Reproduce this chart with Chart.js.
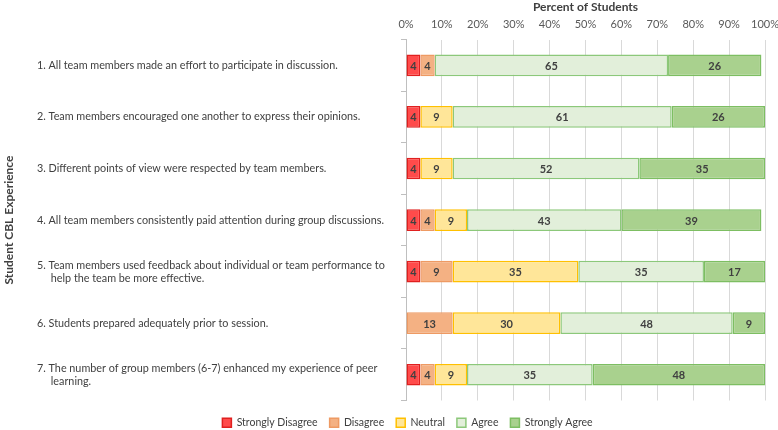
<!DOCTYPE html>
<html>
<head>
<meta charset="utf-8">
<script src="https://cdn.jsdelivr.net/npm/chart.js@4/dist/chart.umd.min.js"></script>
<style>
  body { margin: 0; background: #fff; }
</style>
</head>
<body>
<canvas id="myChart" width="778" height="430"></canvas>
<script>
// survey statements (multi-line ones are arrays)
const statements = [
    '1. All team members made an effort to participate in discussion.',
    '2. Team members encouraged one another to express their opinions.',
    '3. Different points of view were respected by team members.',
    '4. All team members consistently paid attention during group discussions.',
    ['5. Team members used feedback about individual or team performance to', '     help the team be more effective.'],
    '6. Students prepared adequately prior to session.',
    ['7. The number of group members (6-7) enhanced my experience of peer', '     learning.']
];

// percent of students per answer
const stronglyDisagree = [4, 4, 4, 4, 4, 0, 4];
const disagree         = [4, 0, 0, 4, 9, 13, 4];
const neutral          = [0, 9, 9, 9, 35, 30, 9];
const agree            = [65, 61, 52, 43, 35, 48, 35];
const stronglyAgree    = [26, 26, 35, 39, 17, 9, 48];

const percentTicks = [0, 10, 20, 30, 40, 50, 60, 70, 80, 90, 100];

const FONT = 'Lato';

// zero answers are not drawn
function noZero(arr) {
    return arr.map(v => v === 0 ? null : v);
}

// numbers inside the bars
const barLabels = {
    id: 'barLabels',
    afterDatasetsDraw(chart) {
        const ctx = chart.ctx;
        ctx.save();
        ctx.font = 'bold 11px ' + FONT;
        ctx.fillStyle = '#404040';
        ctx.textAlign = 'center';
        ctx.textBaseline = 'middle';
        chart.data.datasets.forEach((ds, i) => {
            chart.getDatasetMeta(i).data.forEach((bar, j) => {
                const v = ds.data[j];
                if (!v) return;
                const c = bar.getCenterPoint();
                ctx.fillText(v, c.x, c.y + 1);
            });
        });
        ctx.restore();
    }
};

// rotated y title at the far left, legend nudged down a bit
const sideTitle = {
    id: 'sideTitle',
    afterLayout(chart) {
        chart.legend.top += 5;
        chart.legend.bottom += 5;
    },
    afterDraw(chart) {
        const ctx = chart.ctx;
        const area = chart.chartArea;
        ctx.save();
        ctx.translate(9, (area.top + area.bottom) / 2);
        ctx.rotate(-Math.PI / 2);
        ctx.font = 'bold 12px ' + FONT;
        ctx.fillStyle = '#404040';
        ctx.textAlign = 'center';
        ctx.textBaseline = 'middle';
        ctx.fillText('Student CBL Experience', 0, 0);
        ctx.restore();
    }
};

let myChart = document.getElementById('myChart').getContext('2d');

let cblChart = new Chart(myChart, {
    type: 'bar',
    data: {
        labels: statements,
        datasets: [
            {
                label: 'Strongly Disagree',
                data: noZero(stronglyDisagree),
                backgroundColor: '#FF4B4B',
                borderColor: '#E0201F'
            },
            {
                label: 'Disagree',
                data: noZero(disagree),
                backgroundColor: '#F4B183',
                borderColor: '#EE9A63'
            },
            {
                label: 'Neutral',
                data: noZero(neutral),
                backgroundColor: '#FFE699',
                borderColor: '#FFC000'
            },
            {
                label: 'Agree',
                data: noZero(agree),
                backgroundColor: '#E2EFDA',
                borderColor: '#8CC87A'
            },
            {
                label: 'Strongly Agree',
                data: noZero(stronglyAgree),
                backgroundColor: '#A9D18E',
                borderColor: '#7DBE62'
            }
        ]
    },
    options: {
        responsive: false,
        animation: false,
        indexAxis: 'y',
        datasets: {
            bar: {
                borderWidth: 1.5,
                borderSkipped: false,
                categoryPercentage: 1,
                barPercentage: 0.42
            }
        },
        layout: {
            padding: { left: 37, right: 0, top: 0, bottom: -3 }
        },
        scales: {
            x: {
                position: 'top',
                stacked: true,
                min: 0,
                max: 100,
                afterBuildTicks(scale) {
                    scale.ticks = percentTicks.map(v => ({ value: v }));
                },
                afterFit(scale) {
                    scale.paddingLeft = 0;
                    scale.paddingRight = 13;
                },
                ticks: {
                    callback: v => v + '%',
                    color: '#595959',
                    font: { family: FONT, size: 11 },
                    padding: 9,
                    maxRotation: 0
                },
                grid: {
                    color: '#D9D9D9',
                    drawTicks: false
                },
                border: { display: false },
                title: {
                    display: true,
                    text: 'Percent of Students',
                    color: '#404040',
                    font: { family: FONT, size: 12, weight: 'bold' },
                    padding: { top: 0, bottom: -6 }
                }
            },
            y: {
                stacked: true,
                afterFit(scale) {
                    scale.width = 369;
                },
                ticks: {
                    crossAlign: 'far',
                    color: '#404040',
                    font: { family: FONT, size: 10.8 },
                    autoSkip: false
                },
                grid: {
                    offset: true,
                    drawOnChartArea: false,
                    tickLength: 5,
                    color: '#BFBFBF'
                },
                border: { color: '#BFBFBF' }
            }
        },
        plugins: {
            legend: {
                position: 'bottom',
                labels: {
                    boxWidth: 9,
                    boxHeight: 9,
                    color: '#404040',
                    font: { family: FONT, size: 10.5 },
                    padding: 12
                }
            },
            tooltip: { enabled: false }
        }
    },
    plugins: [barLabels, sideTitle]
});
</script>
</body>
</html>
